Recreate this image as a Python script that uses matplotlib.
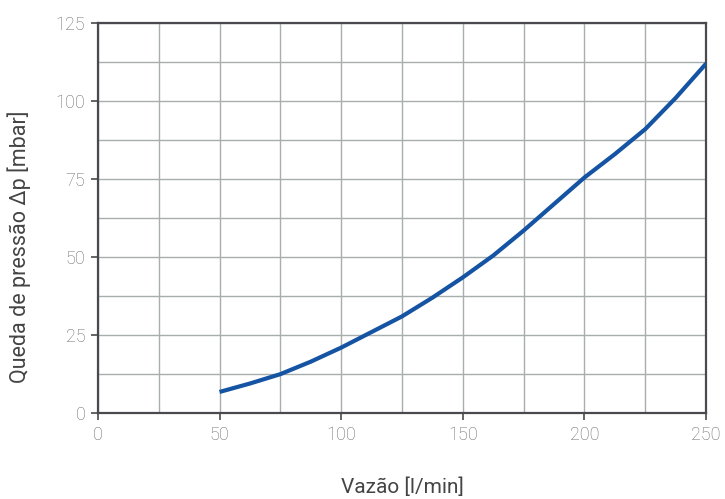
import numpy as np
import matplotlib.pyplot as plt
from matplotlib.ticker import MultipleLocator

plt.rcParams.update({
    "font.family": ["Roboto", "DejaVu Sans"],
})

# Curva de perda de carga
vazao = [50, 62.5, 75, 87.5, 100, 112.5, 125, 137.5, 150, 162.5, 175, 187.5, 200, 212.5, 225, 237.5, 250]
queda = [6.8, 9.5, 12.5, 16.5, 21, 26, 31, 37, 43.5, 50.5, 58.5, 67, 75.5, 83, 91, 101, 112]

x_ticks = [0, 50, 100, 150, 200, 250]
y_ticks = [0, 25, 50, 75, 100, 125]

fig = plt.figure(figsize=(7.25, 4.99), dpi=100)
ax = fig.add_axes([0.135, 0.172, 0.839, 0.782])

ax.plot(vazao, queda, color="#1553a3", linewidth=3.0, solid_capstyle="butt", zorder=3)

ax.set_xlim(0, 250)
ax.set_ylim(0, 125)
ax.set_xticks(x_ticks)
ax.set_yticks(y_ticks)
ax.xaxis.set_minor_locator(MultipleLocator(25))
ax.yaxis.set_minor_locator(MultipleLocator(12.5))

# grade
ax.grid(True, which="both", color="#a8aeae", linewidth=1.0)
ax.set_axisbelow(True)

for s in ax.spines.values():
    s.set_color("#4a4a4e")
    s.set_linewidth(1.6)

ax.tick_params(which="major", length=5, width=1.2, color="#4a4a4e",
               labelsize=13, labelcolor="#6b6b6b", pad=4)
ax.tick_params(which="minor", length=0)
for lbl in ax.get_xticklabels() + ax.get_yticklabels():
    lbl.set_fontweight("light")

ax.set_xlabel("Vazão [l/min]", fontsize=15, color="#444444", labelpad=24)
ax.set_ylabel("Queda de pressão Δp [mbar]", fontsize=15.5, color="#444444")
ax.yaxis.set_label_coords(-0.110, 0.426)

plt.savefig("out.png", dpi=100)
